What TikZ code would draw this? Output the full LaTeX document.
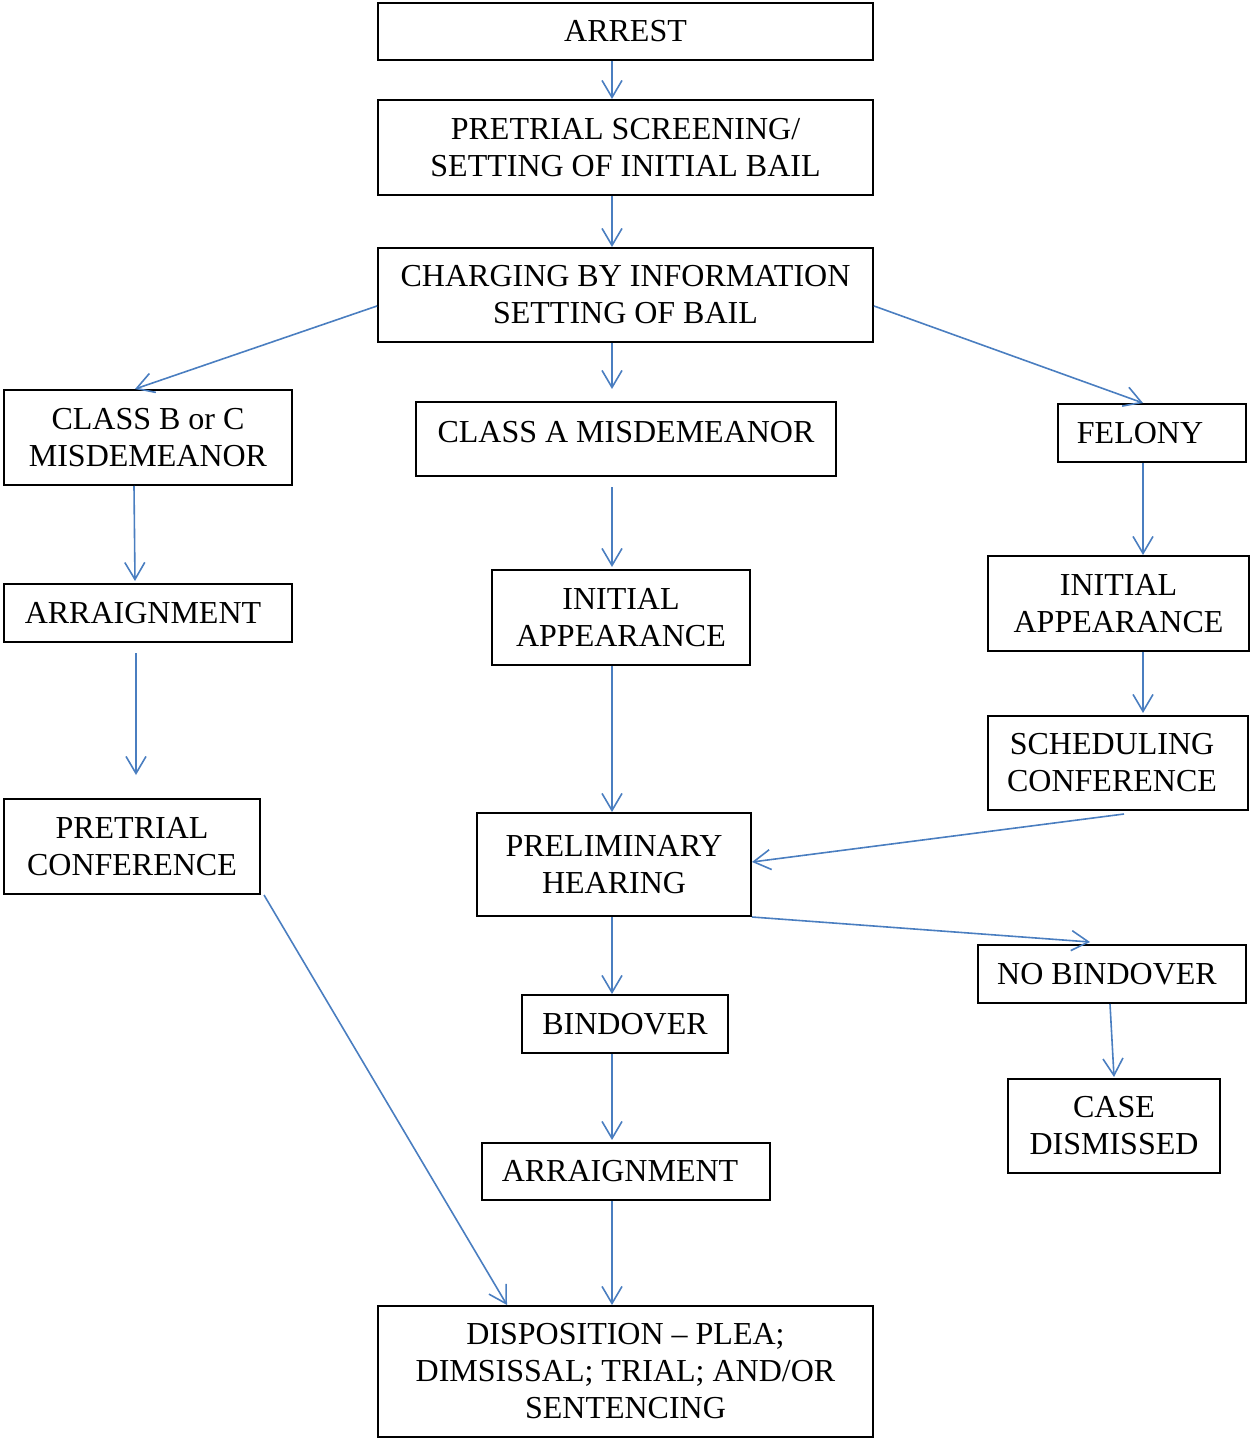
\documentclass[tikz,border=0pt]{standalone}
\usepackage{fontspec}
\setmainfont{Liberation Serif}
\usepackage{xcolor}
\usetikzlibrary{arrows.meta,positioning}
\definecolor{flowblue}{RGB}{74,126,192}

\begin{document}
\begin{tikzpicture}[x=0.5pt, y=-0.5pt, every node/.style={font=\fontsize{16}{18.5}\selectfont}]
  \tikzset{
      stage/.style={draw, line width=1pt, align=center, inner sep=0pt},
      flow/.style={draw=flowblue, line width=0.8pt, -{Straight Barb[length=8.5pt,width=10pt]}}
  }
  \useasboundingbox (0,0) rectangle (1250,1438);

  % main column
  \node[stage, minimum width=247.5pt, minimum height=28.5pt] (arrest) at (625.5, 31.5)  {ARREST};
  \node[stage, minimum width=247.5pt, minimum height=47.5pt] (screen) at (625.5, 147.5) {PRETRIAL SCREENING/\\SETTING OF INITIAL BAIL};
  \node[stage, minimum width=247.5pt, minimum height=47pt]   (charge) at (625.5, 295)   {CHARGING BY INFORMATION\\SETTING OF BAIL};
  \node[stage, minimum width=210pt,   minimum height=37pt]   (clsA)   at (626, 439)     {\raisebox{7pt}{CLASS A MISDEMEANOR}};
  \node[stage, minimum width=129pt,   minimum height=47.5pt] (initM)  at (621, 617.5)   {INITIAL\\APPEARANCE};
  \node[stage, minimum width=137pt,   minimum height=51.5pt] (prelim) at (614, 864.5)   {PRELIMINARY\\HEARING};
  \node[stage, minimum width=103pt,   minimum height=29pt]   (bind)   at (625, 1024)    {BINDOVER};
  \node[stage, minimum width=144pt,   minimum height=28.5pt] (arrM)   at (626, 1171.5)  {ARRAIGNMENT\hspace*{6pt}};
  \node[stage, minimum width=247.5pt, minimum height=65.5pt] (disp)   at (625.5, 1371.5){DISPOSITION – PLEA;\\DIMSISSAL; TRIAL; AND/OR\\SENTENCING};

  % left column
  \node[stage, minimum width=144pt, minimum height=47.5pt] (clsBC) at (148, 437.5) {CLASS B or C\\MISDEMEANOR};
  \node[stage, minimum width=144pt, minimum height=29pt]   (arrL)  at (148, 613)   {ARRAIGNMENT\hspace*{5pt}};
  \node[stage, minimum width=128pt, minimum height=47.5pt] (pconf) at (132, 846.5) {PRETRIAL\\CONFERENCE};

  % right column
  \node[stage, minimum width=94pt,  minimum height=29pt]   (felony) at (1152, 433)   {FELONY\hspace*{12pt}};
  \node[stage, minimum width=130.5pt, minimum height=47.5pt] (initR) at (1118.5, 603.5) {INITIAL\\APPEARANCE};
  \node[stage, minimum width=130pt, minimum height=47pt]   (sched)  at (1118, 763)   {SCHEDULING\hspace*{6pt}\\CONFERENCE\hspace*{6pt}};
  \node[stage, minimum width=134pt, minimum height=29pt]   (nobind) at (1112, 974)   {NO BINDOVER\hspace*{5pt}};
  \node[stage, minimum width=106pt, minimum height=47pt]   (dism)   at (1114, 1126)  {CASE\\DISMISSED};

  % connectors
  \draw[flow] ([xshift=-6.75pt]arrest.south) -- ([xshift=-6.75pt]screen.north);
  \draw[flow] ([xshift=-6.75pt]screen.south) -- ([xshift=-6.75pt]charge.north);
  \draw[flow] ([yshift=-5.5pt]charge.west) -- ([xshift=-6.5pt]clsBC.north);
  \draw[flow] ([xshift=-6.75pt]charge.south) -- ([xshift=-7pt, yshift=6pt]clsA.north);
  \draw[flow] ([yshift=-5.5pt]charge.east) -- ([xshift=-4.5pt]felony.north);

  \draw[flow] ([xshift=-7pt]clsBC.south) -- ([xshift=-6.5pt, yshift=1pt]arrL.north);
  \draw[flow] ([xshift=-6pt, yshift=-5pt]arrL.south) -- ([xshift=2pt, yshift=11.5pt]pconf.north);
  \draw[flow] ([xshift=1.5pt]pconf.south east) -- ([xshift=-59.25pt]disp.north);

  \draw[flow] ([xshift=-7pt, yshift=-5pt]clsA.south) -- ([xshift=-4.5pt, yshift=1pt]initM.north);
  \draw[flow] ([xshift=-4.5pt]initM.south) -- ([xshift=-1pt]prelim.north);
  \draw[flow] ([xshift=-1pt]prelim.south) -- ([xshift=-6.5pt]bind.north);
  \draw[flow] ([xshift=-6.5pt]bind.south) -- ([xshift=-7pt, yshift=1pt]arrM.north);
  \draw[flow] ([xshift=-7pt]arrM.south) -- ([xshift=-6.75pt]disp.north);

  \draw[flow] ([xshift=-4.5pt]felony.south) -- ([xshift=12.25pt]initR.north);
  \draw[flow] ([xshift=12.25pt]initR.south) -- ([xshift=12.5pt, yshift=1pt]sched.north);
  \draw[flow] ([xshift=3pt, yshift=-1.5pt]sched.south) -- ([yshift=1.25pt]prelim.east);
  \draw[flow] (prelim.south east) -- ([xshift=-11pt, yshift=1pt]nobind.north);
  \draw[flow] ([xshift=-1pt]nobind.south) -- ([yshift=0.5pt]dism.north);
\end{tikzpicture}
\end{document}
